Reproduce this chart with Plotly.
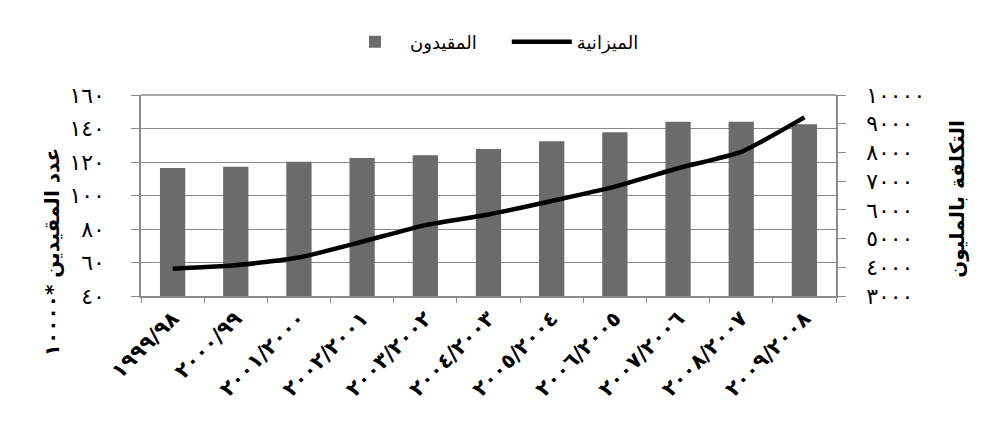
"""Enrolment vs. budget chart (bars on left axis, smoothed line on right axis)."""

import plotly.graph_objects as go

# category labels (academic years), Arabic-Indic digits
years = [
    "١٩٩٩/٩٨", "٢٠٠٠/٩٩", "٢٠٠١/٢٠٠٠", "٢٠٠٢/٢٠٠١", "٢٠٠٣/٢٠٠٢", "٢٠٠٤/٢٠٠٣",
    "٢٠٠٥/٢٠٠٤", "٢٠٠٦/٢٠٠٥", "٢٠٠٧/٢٠٠٦", "٢٠٠٨/٢٠٠٧", "٢٠٠٩/٢٠٠٨",
]

# enrolled students (*10000) - left axis
enrolled = [116.4, 117.2, 120.2, 122.4, 124.0, 127.8, 132.4, 137.8, 144.0, 144.0, 142.6]

# budget in millions - right axis
budget = [3950, 4070, 4340, 4890, 5470, 5840, 6310, 6810, 7450, 8020, 9220]

left_ticks = [40, 60, 80, 100, 120, 140, 160]
left_text = ["٤٠", "٦٠", "٨٠", "١٠٠", "١٢٠", "١٤٠", "١٦٠"]
right_ticks = [3000, 4000, 5000, 6000, 7000, 8000, 9000, 10000]
right_text = ["٣٠٠٠", "٤٠٠٠", "٥٠٠٠", "٦٠٠٠", "٧٠٠٠", "٨٠٠٠", "٩٠٠٠", "١٠٠٠٠"]

FONT = "DejaVu Sans"
GRID = "#8a8a8a"
PAD = "\u00a0" * 5  # extra gap between the two legend entries

fig = go.Figure()

fig.add_trace(go.Bar(
    x=years, y=enrolled, name="المقيدون" + PAD,
    marker=dict(color="#6b6b6b", line=dict(width=0)),
    yaxis="y",
))

fig.add_trace(go.Scatter(
    x=years, y=budget, name="الميزانية", mode="lines",
    line=dict(color="black", width=4.5, shape="spline", smoothing=0.5),
    yaxis="y2",
))

# page body has an 8px margin, so margins are offset by 8 to land the plot at 141..836 / 95..296
fig.update_layout(
    width=1004, height=443,
    margin=dict(l=133, r=176, t=87, b=155, autoexpand=False),
    paper_bgcolor="white", plot_bgcolor="white",
    font=dict(family=FONT, color="black", size=15),
    bargap=0.6,
    showlegend=True,
    legend=dict(
        orientation="h", x=0.505, y=1.264, xanchor="center", yanchor="middle",
        font=dict(size=18, family="Liberation Sans, DejaVu Sans"),
        itemwidth=60,
    ),
    xaxis=dict(
        type="category", automargin=False,
        tickangle=-45,
        ticks="outside", ticklen=5, tickcolor=GRID, tickson="boundaries",
        showline=True, linecolor=GRID, linewidth=1.5,
        showgrid=False,
        tickfont=dict(size=21, weight="bold"),
    ),
    yaxis=dict(
        range=[40, 160], automargin=False,
        tickvals=left_ticks, ticktext=left_text,
        ticks="outside", ticklen=8, tickcolor=GRID,
        showline=True, linecolor=GRID, linewidth=1.5,
        showgrid=True, gridcolor=GRID, gridwidth=1.2,
        zeroline=False,
        tickfont=dict(size=22),
        ticklabelstandoff=22,
    ),
    yaxis2=dict(
        overlaying="y", side="right", automargin=False,
        range=[3000, 10000],
        tickvals=right_ticks, ticktext=right_text,
        ticks="outside", ticklen=8, tickcolor=GRID,
        showline=True, linecolor=GRID, linewidth=1.5,
        showgrid=False, zeroline=False,
        tickfont=dict(size=22),
        ticklabelstandoff=16,
    ),
)

# axis titles placed as rotated annotations (left one sits lower, as in the original)
fig.add_annotation(text="<b>عدد المقيدين *١٠٠٠٠</b>", xref="paper", yref="paper",
                   x=-0.129, y=0.22, textangle=-90, showarrow=False,
                   font=dict(size=20), xanchor="center", yanchor="middle")
fig.add_annotation(text="<b>التكلفة بالمليون</b>", xref="paper", yref="paper",
                   x=1.174, y=0.483, textangle=-90, showarrow=False,
                   font=dict(size=20), xanchor="center", yanchor="middle")

# top border of the plot area
fig.add_shape(type="line", xref="paper", yref="paper", x0=0, x1=1, y0=1, y1=1,
              line=dict(color=GRID, width=1.5))

fig.write_html("out.html")
